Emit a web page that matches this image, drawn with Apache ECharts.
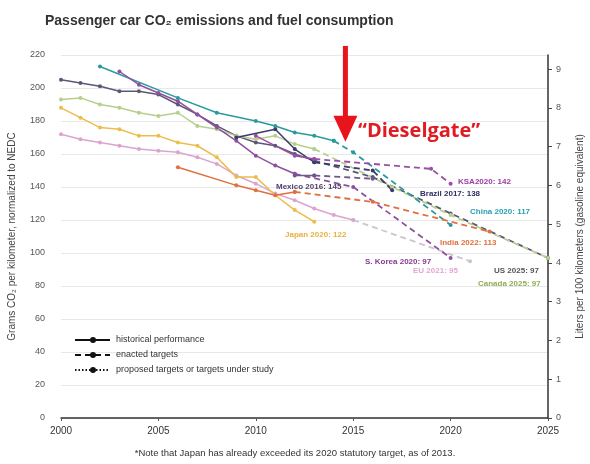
<!DOCTYPE html>
<html><head><meta charset="utf-8">
<script src="https://cdn.jsdelivr.net/npm/echarts@6/dist/echarts.min.js"></script>
<style>html,body{margin:0;padding:0;background:#fff}#c{width:590px;height:464px}</style>
</head><body><div id="c"></div>
<script>
// ---- data (g CO2/km, NEDC-normalized) ----
const xTicks = [2000, 2005, 2010, 2015, 2020, 2025];
const usHist = [[2000,205],[2001,203],[2002,201],[2003,198],[2004,198],[2005,196],[2006,190],[2007,184],[2008,177],[2009,171],[2010,167],[2011,165],[2012,160],[2013,156]];
const usTarget = [[2013,156],[2016,146],[2020,124],[2025,97]];
const canadaHist = [[2000,193],[2001,194],[2002,190],[2003,188],[2004,185],[2005,183],[2006,185],[2007,177],[2008,175],[2009,171],[2010,169],[2011,171],[2012,166],[2013,163]];
const canadaTarget = [[2013,163],[2017,140],[2020,123],[2025,97]];
const euHist = [[2000,172],[2001,169],[2002,167],[2003,165],[2004,163],[2005,162],[2006,161],[2007,158],[2008,154],[2009,147],[2010,142],[2011,136],[2012,132],[2013,127],[2014,123],[2015,120]];
const euTarget = [[2015,120],[2021,95]];
const japanHist = [[2000,188],[2001,182],[2002,176],[2003,175],[2004,171],[2005,171],[2006,167],[2007,165],[2008,158],[2009,146],[2010,146],[2011,135],[2012,126],[2013,119]];
const chinaHist = [[2002,213],[2006,194],[2008,185],[2010,180],[2011,177],[2012,173],[2013,171],[2014,168]];
const chinaTarget = [[2014,168],[2015,161],[2020,117]];
const koreaHist = [[2003,210],[2004,202],[2005,197],[2006,192],[2007,184],[2008,176],[2009,168],[2010,159],[2011,153],[2012,148]];
const koreaTarget = [[2012,148],[2015,140],[2020,97]];
const mexicoHist = [[2012,147],[2013,147]];
const mexicoTarget = [[2013,147],[2016,145]];
const brazilHist = [[2009,170],[2011,175],[2012,163],[2013,155]];
const brazilTarget = [[2013,155],[2016,150],[2017,138]];
const indiaHist = [[2006,152],[2009,141],[2010,138],[2011,135],[2012,137]];
const indiaTarget = [[2012,137],[2016,131],[2022,113]];
const ksaHist = [[2010,171],[2012,159],[2013,157]];
const ksaTarget = [[2013,157],[2019,151],[2020,142]];

const C = {us:'#5c5677', canada:'#b7cf8c', eu:'#dba4cf', euT:'#cfc3cc', japan:'#ecbd4c', china:'#2b9a9e',
  korea:'#90509f', mexico:'#6d5a8c', brazil:'#3a3c6c', india:'#e0703f', ksa:'#9c4ea6'};

function mk(name, data, color, dashed){
  return {name, type:'line', data, symbol:'circle', symbolSize:4, showSymbol:true,
    itemStyle:{color}, lineStyle:{color, width: dashed?1.8:1.5, type: dashed?[6,4]:'solid'},
    animation:false, silent:true, z: dashed?2:3};
}
const series = [
  mk('US', usHist, C.us), mk('US target', usTarget, C.us, true),
  mk('Canada', canadaHist, C.canada), mk('Canada target', canadaTarget, C.canada, true),
  mk('EU', euHist, C.eu), mk('EU target', euTarget, C.euT, true),
  mk('Japan', japanHist, C.japan),
  mk('China', chinaHist, C.china), mk('China target', chinaTarget, C.china, true),
  mk('S. Korea', koreaHist, C.korea), mk('S. Korea target', koreaTarget, C.korea, true),
  mk('Mexico', mexicoHist, C.mexico), mk('Mexico target', mexicoTarget, C.mexico, true),
  mk('Brazil', brazilHist, C.brazil), mk('Brazil target', brazilTarget, C.brazil, true),
  mk('India', indiaHist, C.india), mk('India target', indiaTarget, C.india, true),
  mk('KSA', ksaHist, C.ksa), mk('KSA target', ksaTarget, C.ksa, true)
];

const labels = [
  ['KSA2020: 142', 458, 182, '#9c3aa3'],
  ['Brazil 2017: 138', 420, 194, '#2c2e60'],
  ['China 2020: 117', 470, 212, '#2aa0b2'],
  ['India 2022: 113', 440, 243, '#e0703f'],
  ['S. Korea 2020: 97', 365, 262, '#8a3a92'],
  ['EU 2021: 95', 413, 271, '#e3a6d3'],
  ['US 2025: 97', 494, 271, '#555555'],
  ['Canada 2025: 97', 478, 284, '#8fae55'],
  ['Mexico 2016: 145', 276, 187, '#4e3f6e'],
  ['Japan 2020: 122', 285, 235, '#e8b040']
];

const chart = echarts.init(document.getElementById('c'), null, {renderer:'canvas'});
const font = '"Liberation Sans", Arial, sans-serif';
chart.setOption({
  animation:false,
  textStyle:{fontFamily:font},
  title:{text:'Passenger car CO\u2082 emissions and fuel consumption', left:40, top:9,
    textStyle:{fontSize:14, fontWeight:'bold', color:'#333', fontFamily:font}},
  grid:{left:61, right:42, top:55, bottom:46, containLabel:false, outerBoundsMode:'none'},
  xAxis:{type:'value', min:2000, max:2025, interval:5,
    axisLine:{lineStyle:{color:'#333', width:1.5}}, axisTick:{show:true, length:3, lineStyle:{color:'#555'}},
    splitLine:{show:false}, axisLabel:{color:'#333', fontSize:10, margin:8, formatter:v=>String(v)}},
  yAxis:[
    {type:'value', min:0, max:220, interval:20, position:'left',
     name:'Grams CO\u2082 per kilometer, normalized to NEDC', nameLocation:'middle', nameGap:44, nameRotate:90,
     nameTextStyle:{color:'#444', fontSize:10},
     axisLine:{show:false}, axisTick:{show:false},
     axisLabel:{color:'#555', fontSize:9, margin:16},
     splitLine:{lineStyle:{color:'#e8e8e8', width:1}}},
    {type:'value', min:0, max:220/23.5, interval:1, position:'right',
     name:'Liters per 100 kilometers (gasoline equivalent)', nameLocation:'middle', nameGap:27, nameRotate:90,
     nameTextStyle:{color:'#444', fontSize:10},
     axisLine:{show:true, lineStyle:{color:'#333', width:1.5}}, axisTick:{show:true, length:4, lineStyle:{color:'#444'}},
     axisLabel:{color:'#555', fontSize:9, margin:8, showMaxLabel:false, formatter:v=>Number.isInteger(v)?String(v):''},
     splitLine:{show:false}}
  ],
  series
});

// annotations positioned through the axes
const p = (x,y)=>chart.convertToPixel({gridIndex:0},[x,y]);
const aTop = p(2014.6, 225.5), aTip = p(2014.6, 167.5);
const headH = 26, headW = 12;
const g = [
  {type:'line', shape:{x1:aTop[0], y1:aTop[1], x2:aTip[0], y2:aTip[1]-headH+2}, style:{stroke:'#e8141b', lineWidth:5}, z:100},
  {type:'polygon', shape:{points:[[aTip[0]-headW, aTip[1]-headH],[aTip[0]+headW, aTip[1]-headH],[aTip[0], aTip[1]]]}, style:{fill:'#e8141b'}, z:100},
  {type:'text', left:358, top:121, style:{text:'\u201CDieselgate\u201D', fill:'#e01c22', font:'bold 20px "Open Sans", "Liberation Sans", sans-serif'}, z:100},
  {type:'text', left:'center', top:448, style:{text:'*Note that Japan has already exceeded its 2020 statutory target, as of 2013.', fill:'#333', font:'9.5px '+font}, z:100}
];
labels.forEach(l=>g.push({type:'text', x:l[1], y:l[2], style:{text:l[0], fill:l[3], font:'bold 8px '+font, textVerticalAlign:'middle'}, z:100}));
// style legend
const leg = [['historical performance','solid',340],['enacted targets',[6,4],355],['proposed targets or targets under study',[1.5,2],370]];
leg.forEach(r=>{
  g.push({type:'line', shape:{x1:75, y1:r[2], x2:110, y2:r[2]}, style:{stroke:'#111', lineWidth:2, lineDash: r[1]==='solid'?null:r[1]}, z:100});
  g.push({type:'circle', shape:{cx:93, cy:r[2], r:3}, style:{fill:'#111'}, z:100});
  g.push({type:'text', x:116, y:r[2], style:{text:r[0], fill:'#333', font:'9px '+font, textVerticalAlign:'middle'}, z:100});
});
chart.setOption({graphic:g});
</script></body></html>
